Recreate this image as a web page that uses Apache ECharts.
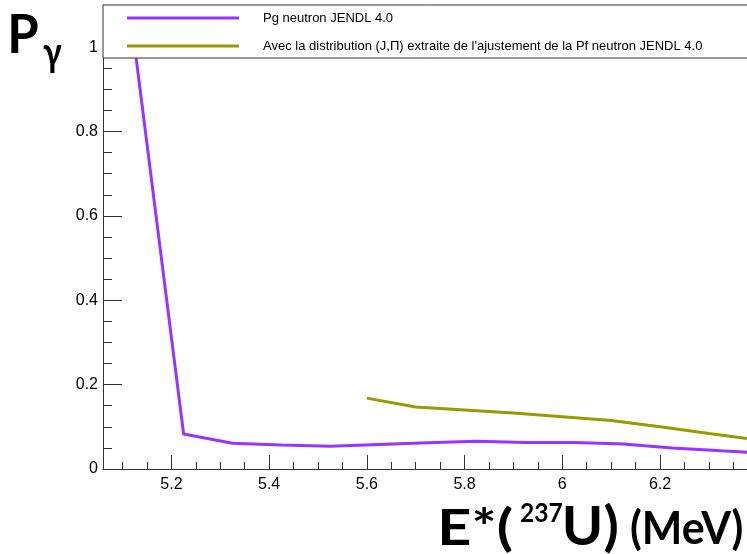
<!DOCTYPE html>
<html>
<head>
<meta charset="utf-8">
<script src="https://cdn.jsdelivr.net/npm/echarts@6/dist/echarts.min.js"></script>
<style>
html,body{margin:0;padding:0;background:#fff;}
#c{width:747px;height:554px;}
</style>
</head>
<body>
<div id="c"></div>
<script>
// ---- data ----
const seriesNames = ['Pg neutron JENDL 4.0', "Avec la distribution (J,\u03A0) extraite de l'ajustement de la Pf neutron JENDL 4.0"];
const pgX = [5.125, 5.225, 5.325, 5.425, 5.525, 5.625, 5.725, 5.825, 5.925, 6.025, 6.125, 6.225, 6.325, 6.425];
const pgY = [1.0, 0.083, 0.061, 0.057, 0.054, 0.058, 0.062, 0.066, 0.063, 0.063, 0.059, 0.050, 0.043, 0.037];
const fitX = [5.6, 5.7, 5.8, 5.9, 6.0, 6.1, 6.2, 6.3, 6.4];
const fitY = [0.168, 0.147, 0.140, 0.133, 0.124, 0.115, 0.100, 0.084, 0.069];
const xTickLabels = [5.2, 5.4, 5.6, 5.8, 6.0, 6.2];
const xMinorTicks = [5.1, 5.15, 5.25, 5.3, 5.35, 5.45, 5.5, 5.55, 5.65, 5.7, 5.75, 5.85, 5.9, 5.95, 6.05, 6.1, 6.15, 6.25, 6.3, 6.35];
const yTickLabels = [0, 0.2, 0.4, 0.6, 0.8, 1.0];
const xRange = [5.06, 6.378];
const yRange = [0, 1.1];

const colors = ['#9933ff', '#999900'];
const zip = (xs, ys) => xs.map((x, i) => [x, ys[i]]);

// place a text so that its ink box fills a target box
const bigFamily = 'Lato, "Noto Sans", sans-serif';
function fitText(text, box) {
  const c = document.createElement('canvas').getContext('2d');
  c.textBaseline = 'middle'; c.textAlign = 'left';
  c.font = 'bold 100px ' + bigFamily;
  let m = c.measureText(text);
  const h100 = m.actualBoundingBoxAscent + m.actualBoundingBoxDescent;
  const size = 100 * (box[3] - box[1]) / h100;
  const font = 'bold ' + size.toFixed(2) + 'px ' + bigFamily;
  c.font = font;
  m = c.measureText(text);
  const w = m.actualBoundingBoxLeft + m.actualBoundingBoxRight;
  const sx = (box[2] - box[0]) / w;
  return {
    type: 'text', z: 60,
    x: box[0] + sx * m.actualBoundingBoxLeft,
    y: box[1] + m.actualBoundingBoxAscent,
    scaleX: sx,
    style: {text: text, x: 0, y: 0, textAlign: 'left', textVerticalAlign: 'middle', font: font, fill: '#000'}
  };
}

const chart = echarts.init(document.getElementById('c'), null, {renderer: 'canvas'});
const axisCol = '#333';
const tickFont = {fontFamily: 'Liberation Sans, Arial, sans-serif', fontSize: 16, color: '#000'};

chart.setOption({
  animation: false,
  backgroundColor: '#fff',
  grid: {left: 103, top: 5, right: 0, bottom: 85, containLabel: false, show: false},
  xAxis: [{
    type: 'value', min: xRange[0], max: xRange[1],
    axisLine: {show: true, onZero: false, lineStyle: {color: axisCol, width: 1}},
    axisTick: {show: true, inside: true, length: 14, customValues: xTickLabels, lineStyle: {color: axisCol}},
    axisLabel: {show: true, customValues: xTickLabels, margin: 8, formatter: v => String(+v.toFixed(1)), ...tickFont},
    splitLine: {show: false}
  }, {
    type: 'value', min: xRange[0], max: xRange[1], position: 'bottom',
    axisLine: {show: false, onZero: false},
    axisTick: {show: true, inside: true, length: 7, customValues: xMinorTicks, lineStyle: {color: axisCol}},
    axisLabel: {show: false},
    splitLine: {show: false}
  }],
  yAxis: [{
    type: 'value', min: yRange[0], max: yRange[1], interval: 0.2,
    axisLine: {show: true, onZero: false, lineStyle: {color: axisCol, width: 1}},
    axisTick: {show: true, inside: true, length: 19, customValues: yTickLabels, lineStyle: {color: axisCol}},
    minorTick: {show: true, splitNumber: 4, length: 9, lineStyle: {color: axisCol}},
    axisLabel: {show: true, customValues: yTickLabels, margin: 5, formatter: v => String(+v.toFixed(1)), ...tickFont},
    splitLine: {show: false}
  }],
  legend: {
    orient: 'vertical', left: 127, top: 9, z: 100, padding: 0,
    itemWidth: 112, itemHeight: 3, itemGap: 10,
    data: seriesNames.map(n => ({name: n, icon: 'rect'})),
    textStyle: {fontFamily: 'Liberation Sans, Arial, sans-serif', fontSize: 13, color: '#000', lineHeight: 15, padding: [3, 0, 0, 19]}
  },
  graphic: [
    {type: 'rect', z: 50, shape: {x: 103, y: 5, width: 650, height: 53}, style: {fill: '#fff', stroke: '#333', lineWidth: 1}},
    fitText('P', [11, 14, 38, 52]),
    fitText('\u03B3', [43, 45, 62, 73]),
    fitText('E*(', [442, 505, 512, 553]),
    fitText('237', [520, 503, 563, 522]),
    fitText('U)', [565, 502, 617, 553]),
    fitText('(MeV)', [631, 507, 742, 550])
  ],
  series: [{
    name: seriesNames[0], type: 'line', xAxisIndex: 0, yAxisIndex: 0,
    data: zip(pgX, pgY), showSymbol: false, clip: true,
    lineStyle: {color: colors[0], width: 3}, itemStyle: {color: colors[0]}
  }, {
    name: seriesNames[1], type: 'line', xAxisIndex: 0, yAxisIndex: 0,
    data: zip(fitX, fitY), showSymbol: false, clip: true,
    lineStyle: {color: colors[1], width: 3}, itemStyle: {color: colors[1]}
  }]
});
</script>
</body>
</html>
